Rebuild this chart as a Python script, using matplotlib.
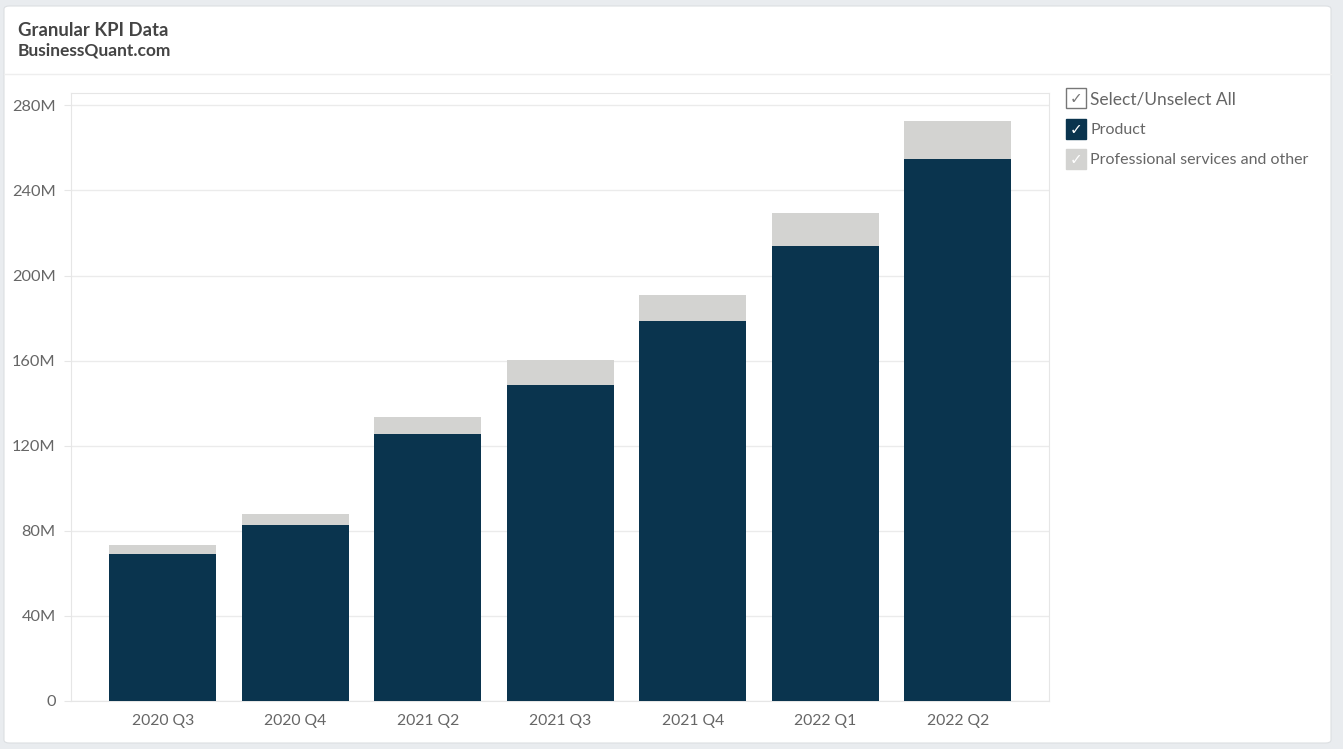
import numpy as np
import matplotlib.pyplot as plt
from matplotlib.patches import Rectangle, FancyBboxPatch
from matplotlib.ticker import FuncFormatter

plt.rcParams['font.family'] = ['Lato', 'DejaVu Sans']

# data (USD, millions)
quarters = ["2020 Q3", "2020 Q4", "2021 Q2", "2021 Q3", "2021 Q4", "2022 Q1", "2022 Q2"]
product = [69.2, 82.6, 125.5, 148.5, 178.5, 214.0, 254.8]
services = [4.3, 5.4, 8.1, 11.8, 12.5, 15.4, 18.0]
yticks = [0, 40, 80, 120, 160, 200, 240, 280]

navy = "#0a344e"
light = "#d3d3d1"
txt = "#666666"

W, H = 1343, 749
fig = plt.figure(figsize=(W / 100, H / 100), dpi=100)
fig.patch.set_facecolor("#e9ecef")

# card
card = FancyBboxPatch((4 / W, 6 / H), 1327 / W, 737 / H, boxstyle="round,pad=0,rounding_size=0.004",
                      transform=fig.transFigure, facecolor="white", edgecolor="#dcdfe2", lw=0.8, zorder=-1)
fig.patches.append(card)
fig.add_artist(plt.Line2D([4 / W, 1331 / W], [1 - 74 / H, 1 - 74 / H], transform=fig.transFigure,
                          color="#eeeeee", lw=1))

fig.text(18 / W, 1 - 30 / H, "Granular KPI Data", fontsize=13.3, weight="bold", color="#444444", va="center")
fig.text(18 / W, 1 - 51 / H, "BusinessQuant.com", fontsize=12.5, weight="bold", color="#444444", va="center")

ax = fig.add_axes([71 / W, 1 - 701 / H, (1049 - 71) / W, (701 - 93) / H])
ax.set_zorder(2)
x = np.arange(len(quarters))
ax.bar(x, product, width=0.808, color=navy, zorder=3)
ax.bar(x, services, bottom=product, width=0.808, color=light, zorder=3)

ax.set_xlim(-0.692, 6.689)
ax.set_ylim(0, 285.8)
ax.set_yticks(yticks)
ax.yaxis.set_major_formatter(FuncFormatter(lambda v, p: "0" if v == 0 else f"{int(v)}M"))
ax.set_xticks(x)
ax.set_xticklabels(quarters)
ax.grid(axis="y", color="#ebebeb", lw=1, zorder=0)
for s in ax.spines.values():
    s.set_color("#e6e6e6")
ax.tick_params(axis="y", length=5, color="#e6e6e6", labelsize=11.8, labelcolor=txt, pad=6)
ax.tick_params(axis="x", length=0, labelsize=11.3, labelcolor=txt, pad=9)

# legend checkboxes
legend_items = [("Select/Unselect All", "white", "#777777", "#777777", 12.5, 98),
                ("Product", navy, navy, "white", 11.5, 129),
                ("Professional services and other", light, light, "white", 11.5, 159)]
for label, fc, ec, ck, fs, yc in legend_items:
    fig.patches.append(Rectangle((1066 / W, 1 - (yc + 10) / H), 20 / W, 20 / H, transform=fig.transFigure,
                                 facecolor=fc, edgecolor=ec, lw=1))
    fig.text(1076 / W, 1 - (yc + 1) / H, "\u2713", fontsize=11, color=ck, ha="center", va="center",
             family=["DejaVu Sans"])
    fig.text(1090 / W, 1 - (yc + 1.5) / H, label, fontsize=fs, color=txt, va="center")

fig.savefig("out.png", dpi=100, facecolor=fig.get_facecolor())
